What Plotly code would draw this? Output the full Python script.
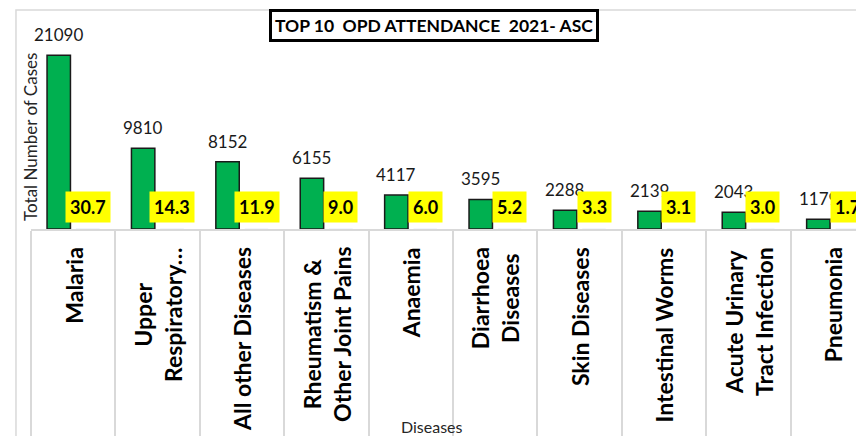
import plotly.graph_objects as go

# ----------------------------------
# Data
# ----------------------------------
categories = [
    "Malaria",
    "Upper<br>Respiratory…",
    "All other Diseases",
    "Rheumatism &<br>Other Joint Pains",
    "Anaemia",
    "Diarrhoea<br>Diseases",
    "Skin Diseases",
    "Intestinal Worms",
    "Acute Urinary<br>Tract Infection",
    "Pneumonia",
]
cases = [21090, 9810, 8152, 6155, 4117, 3595, 2288, 2139, 2043, 1179]
percent = [30.7, 14.3, 11.9, 9.0, 6.0, 5.2, 3.3, 3.1, 3.0, 1.7]

FONT = "Lato"
GROUP_SHIFT = 14.5  # px offset of each bar in the clustered pair

fig = go.Figure()

# Cases (green)
fig.add_trace(
    go.Bar(
        x=categories,
        y=cases,
        name="Cases",
        marker=dict(color="#00B050", line=dict(color="#1a1a1a", width=1.5)),
        hoverinfo="x+y",
    )
)

# Percent series (too small to show on this axis)
fig.add_trace(
    go.Bar(
        x=categories,
        y=percent,
        name="Percent",
        marker=dict(color="rgba(0,0,0,0)"),
        hoverinfo="skip",
    )
)

annotations = []

# value labels above the green bars
for cat, val in zip(categories, cases):
    annotations.append(
        dict(
            x=cat, y=val, xref="x", yref="y",
            text=str(val), showarrow=False,
            xanchor="center", yanchor="bottom",
            xshift=-GROUP_SHIFT, yshift=8,
            font=dict(family=FONT, size=17, color="#1a1a1a"),
        )
    )

# percent labels (yellow boxes at the base)
for cat, p in zip(categories, percent):
    annotations.append(
        dict(
            x=cat, y=0, xref="x", yref="y",
            text=f"<b>{p:.1f}</b>", showarrow=False,
            xanchor="center", yanchor="bottom",
            xshift=GROUP_SHIFT, yshift=6,
            bgcolor="#FFFF00", borderpad=4,
            font=dict(family=FONT, size=18, color="#000000"),
        )
    )

# category labels, rotated
for cat in categories:
    annotations.append(
        dict(
            x=cat, y=0, xref="x", yref="paper",
            text=f"<b>{cat}</b>", showarrow=False,
            textangle=-90, align="center",
            xanchor="center", yanchor="top", yshift=-16,
            font=dict(family=FONT, size=23, color="#000000"),
        )
    )

# axis titles
annotations.append(
    dict(
        x=0, y=0.447, xref="paper", yref="paper",
        text="Total Number of Cases", showarrow=False,
        textangle=-90, xanchor="center", yanchor="middle",
        font=dict(family=FONT, size=17, color="#262626"),
    )
)
annotations.append(
    dict(
        x=0.486, y=-0.958, xref="paper", yref="paper",
        text="Diseases", showarrow=False,
        xanchor="center", yanchor="middle",
        font=dict(family=FONT, size=16, color="#262626"),
    )
)

# boxed title
annotations.append(
    dict(
        x=0.488, y=0.988, xref="paper", yref="paper",
        text="<b>TOP 10\u00a0\u00a0OPD ATTENDANCE\u00a0\u00a02021- ASC</b>",
        showarrow=False, xanchor="center", yanchor="middle",
        bgcolor="#ffffff", bordercolor="#000000", borderwidth=3, borderpad=3,
        font=dict(family=FONT, size=17.5, color="#000000"),
    )
)

fig.update_layout(
    width=856,
    height=436,
    margin=dict(l=31, r=0, t=23, b=207),
    barmode="group",
    bargap=0.315,
    bargroupgap=0.19,
    showlegend=False,
    plot_bgcolor="#ffffff",
    paper_bgcolor="#ffffff",
    annotations=annotations,
    shapes=[
        # chart area border
        dict(
            type="rect", xref="paper", yref="paper",
            x0=-0.0182, x1=1.1, y0=-1.2, y1=1.063,
            line=dict(color="#d9d9d9", width=1.5),
            layer="below",
        )
    ],
)

fig.update_xaxes(
    range=[-0.5, 9.275],
    showticklabels=False,
    showline=True,
    linecolor="#d9d9d9",
    linewidth=1.5,
    ticks="outside",
    tickson="boundaries",
    ticklen=215,
    tickcolor="#d9d9d9",
    tickwidth=1.5,
    showgrid=False,
    automargin=False,
)

fig.update_yaxes(
    range=[0, 25000],
    showticklabels=False,
    showgrid=False,
    zeroline=False,
    showline=False,
    automargin=False,
)

fig.write_html(
    "out.html",
    config={"displayModeBar": False},
    post_script="document.body.style.margin='0';",
)
